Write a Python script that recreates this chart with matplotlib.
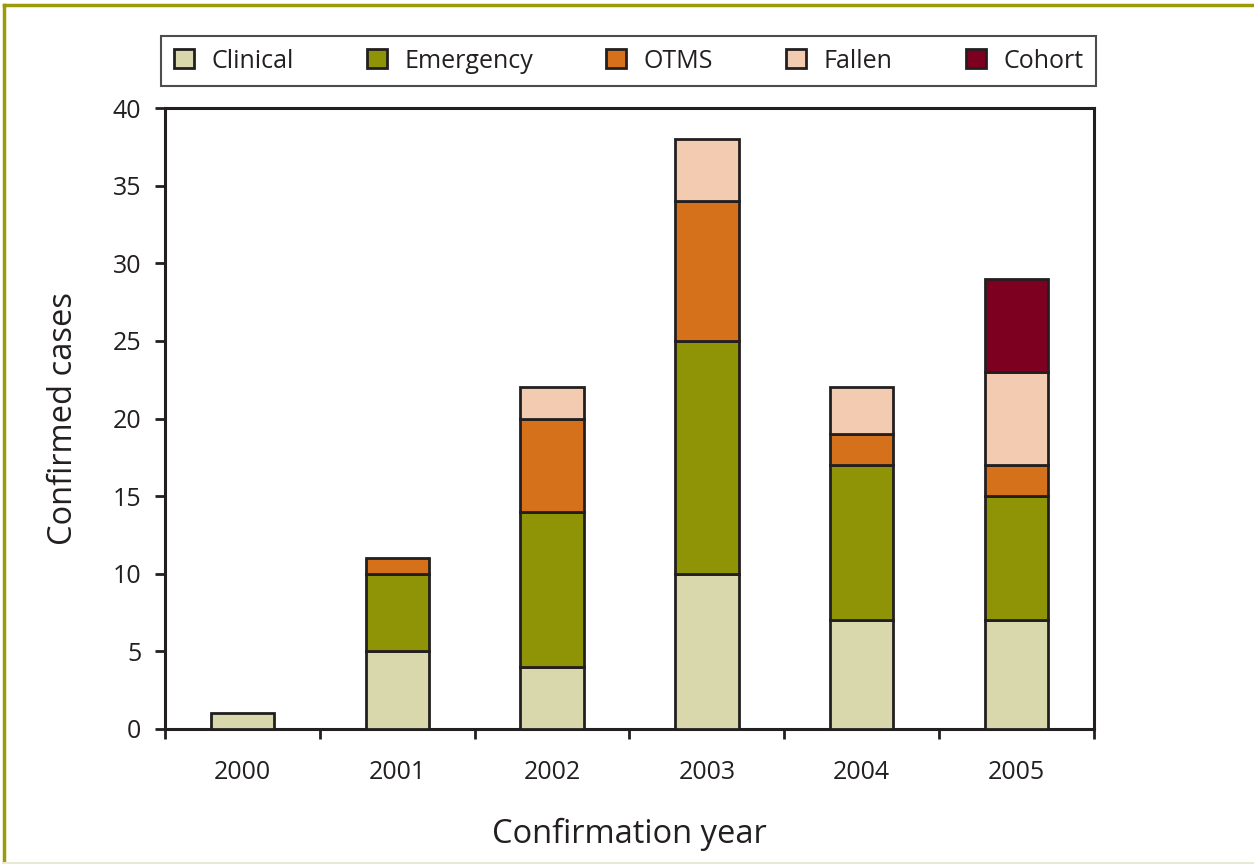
import matplotlib
matplotlib.use('Agg')
import matplotlib.pyplot as plt
from matplotlib.lines import Line2D
from matplotlib.patches import Patch
import numpy as np

plt.rcParams['font.family'] = ['Open Sans', 'DejaVu Sans']

# data
years = ['2000', '2001', '2002', '2003', '2004', '2005']
clinical = [1, 5, 4, 10, 7, 7]
emergency = [0, 5, 10, 15, 10, 8]
otms = [0, 1, 6, 9, 2, 2]
fallen = [0, 0, 2, 4, 3, 6]
cohort = [0, 0, 0, 0, 0, 6]

series = [('Clinical', clinical, '#d9d8ad'),
          ('Emergency', emergency, '#8f9406'),
          ('OTMS', otms, '#d4711a'),
          ('Fallen', fallen, '#f2cbb0'),
          ('Cohort', cohort, '#7d0021')]

ink = '#231f20'
fig = plt.figure(figsize=(12.54, 8.64), dpi=100)
ax = fig.add_axes([165/1254, 1-729/864, (1094-165)/1254, (729-108)/864])

x = np.arange(len(years))
bottom = np.zeros(len(years))
handles = []
for name, vals, col in series:
    vals = np.array(vals, dtype=float)
    mask = vals > 0
    ax.bar(x[mask], vals[mask], bottom=bottom[mask], width=0.41,
           color=col, edgecolor=ink, linewidth=2, zorder=3)
    bottom += vals
    handles.append(Patch(facecolor=col, edgecolor=ink, linewidth=2, label=name))

ax.set_xlim(-0.5, len(years) - 0.5)
ax.set_ylim(0, 40)
ax.set_yticks(range(0, 41, 5))
ax.set_xticks(x)
ax.set_xticklabels(years)
ax.set_xticks(np.arange(-0.5, len(years), 1), minor=True)
ax.tick_params(axis='x', which='major', length=0, pad=22, labelsize=18, colors=ink)
ax.tick_params(axis='x', which='minor', length=7, width=2, direction='out', color=ink)
ax.tick_params(axis='y', length=7, width=2, direction='out', labelsize=18, colors=ink, pad=10)
for s in ax.spines.values():
    s.set_linewidth(2.2)
    s.set_color(ink)

ax.set_xlabel('Confirmation year', fontsize=23.5, color=ink)
ax.set_ylabel('Confirmed cases', fontsize=23.5, color=ink)
ax.xaxis.set_label_coords(0.5, -0.143)
ax.yaxis.set_label_coords(-0.092, 0.5)

leg = fig.legend(handles=handles, loc='lower left', ncol=5, mode='expand',
                 bbox_to_anchor=(161/1254, 1-86/864, (1096-161)/1254, 64/864),
                 fontsize=18, frameon=True, fancybox=False, edgecolor=ink,
                 handlelength=0.8, handleheight=0.8, handletextpad=0.7,
                 borderaxespad=0, borderpad=0.5)
leg.get_frame().set_linewidth(1.5)
for t in leg.get_texts():
    t.set_color(ink)

# olive page frame
olive = '#9a9a0a'
fig.add_artist(Line2D([4/1254, 4/1254], [0, 1-5/864], color=olive, linewidth=2.5,
                      transform=fig.transFigure))
fig.add_artist(Line2D([4/1254, 1], [1-5/864, 1-5/864], color=olive, linewidth=2.5,
                      transform=fig.transFigure))
fig.add_artist(Line2D([4/1254, 1], [1/864, 1/864], color='#e6ead6', linewidth=1.5,
                      transform=fig.transFigure))

fig.savefig('out.png', dpi=100)
